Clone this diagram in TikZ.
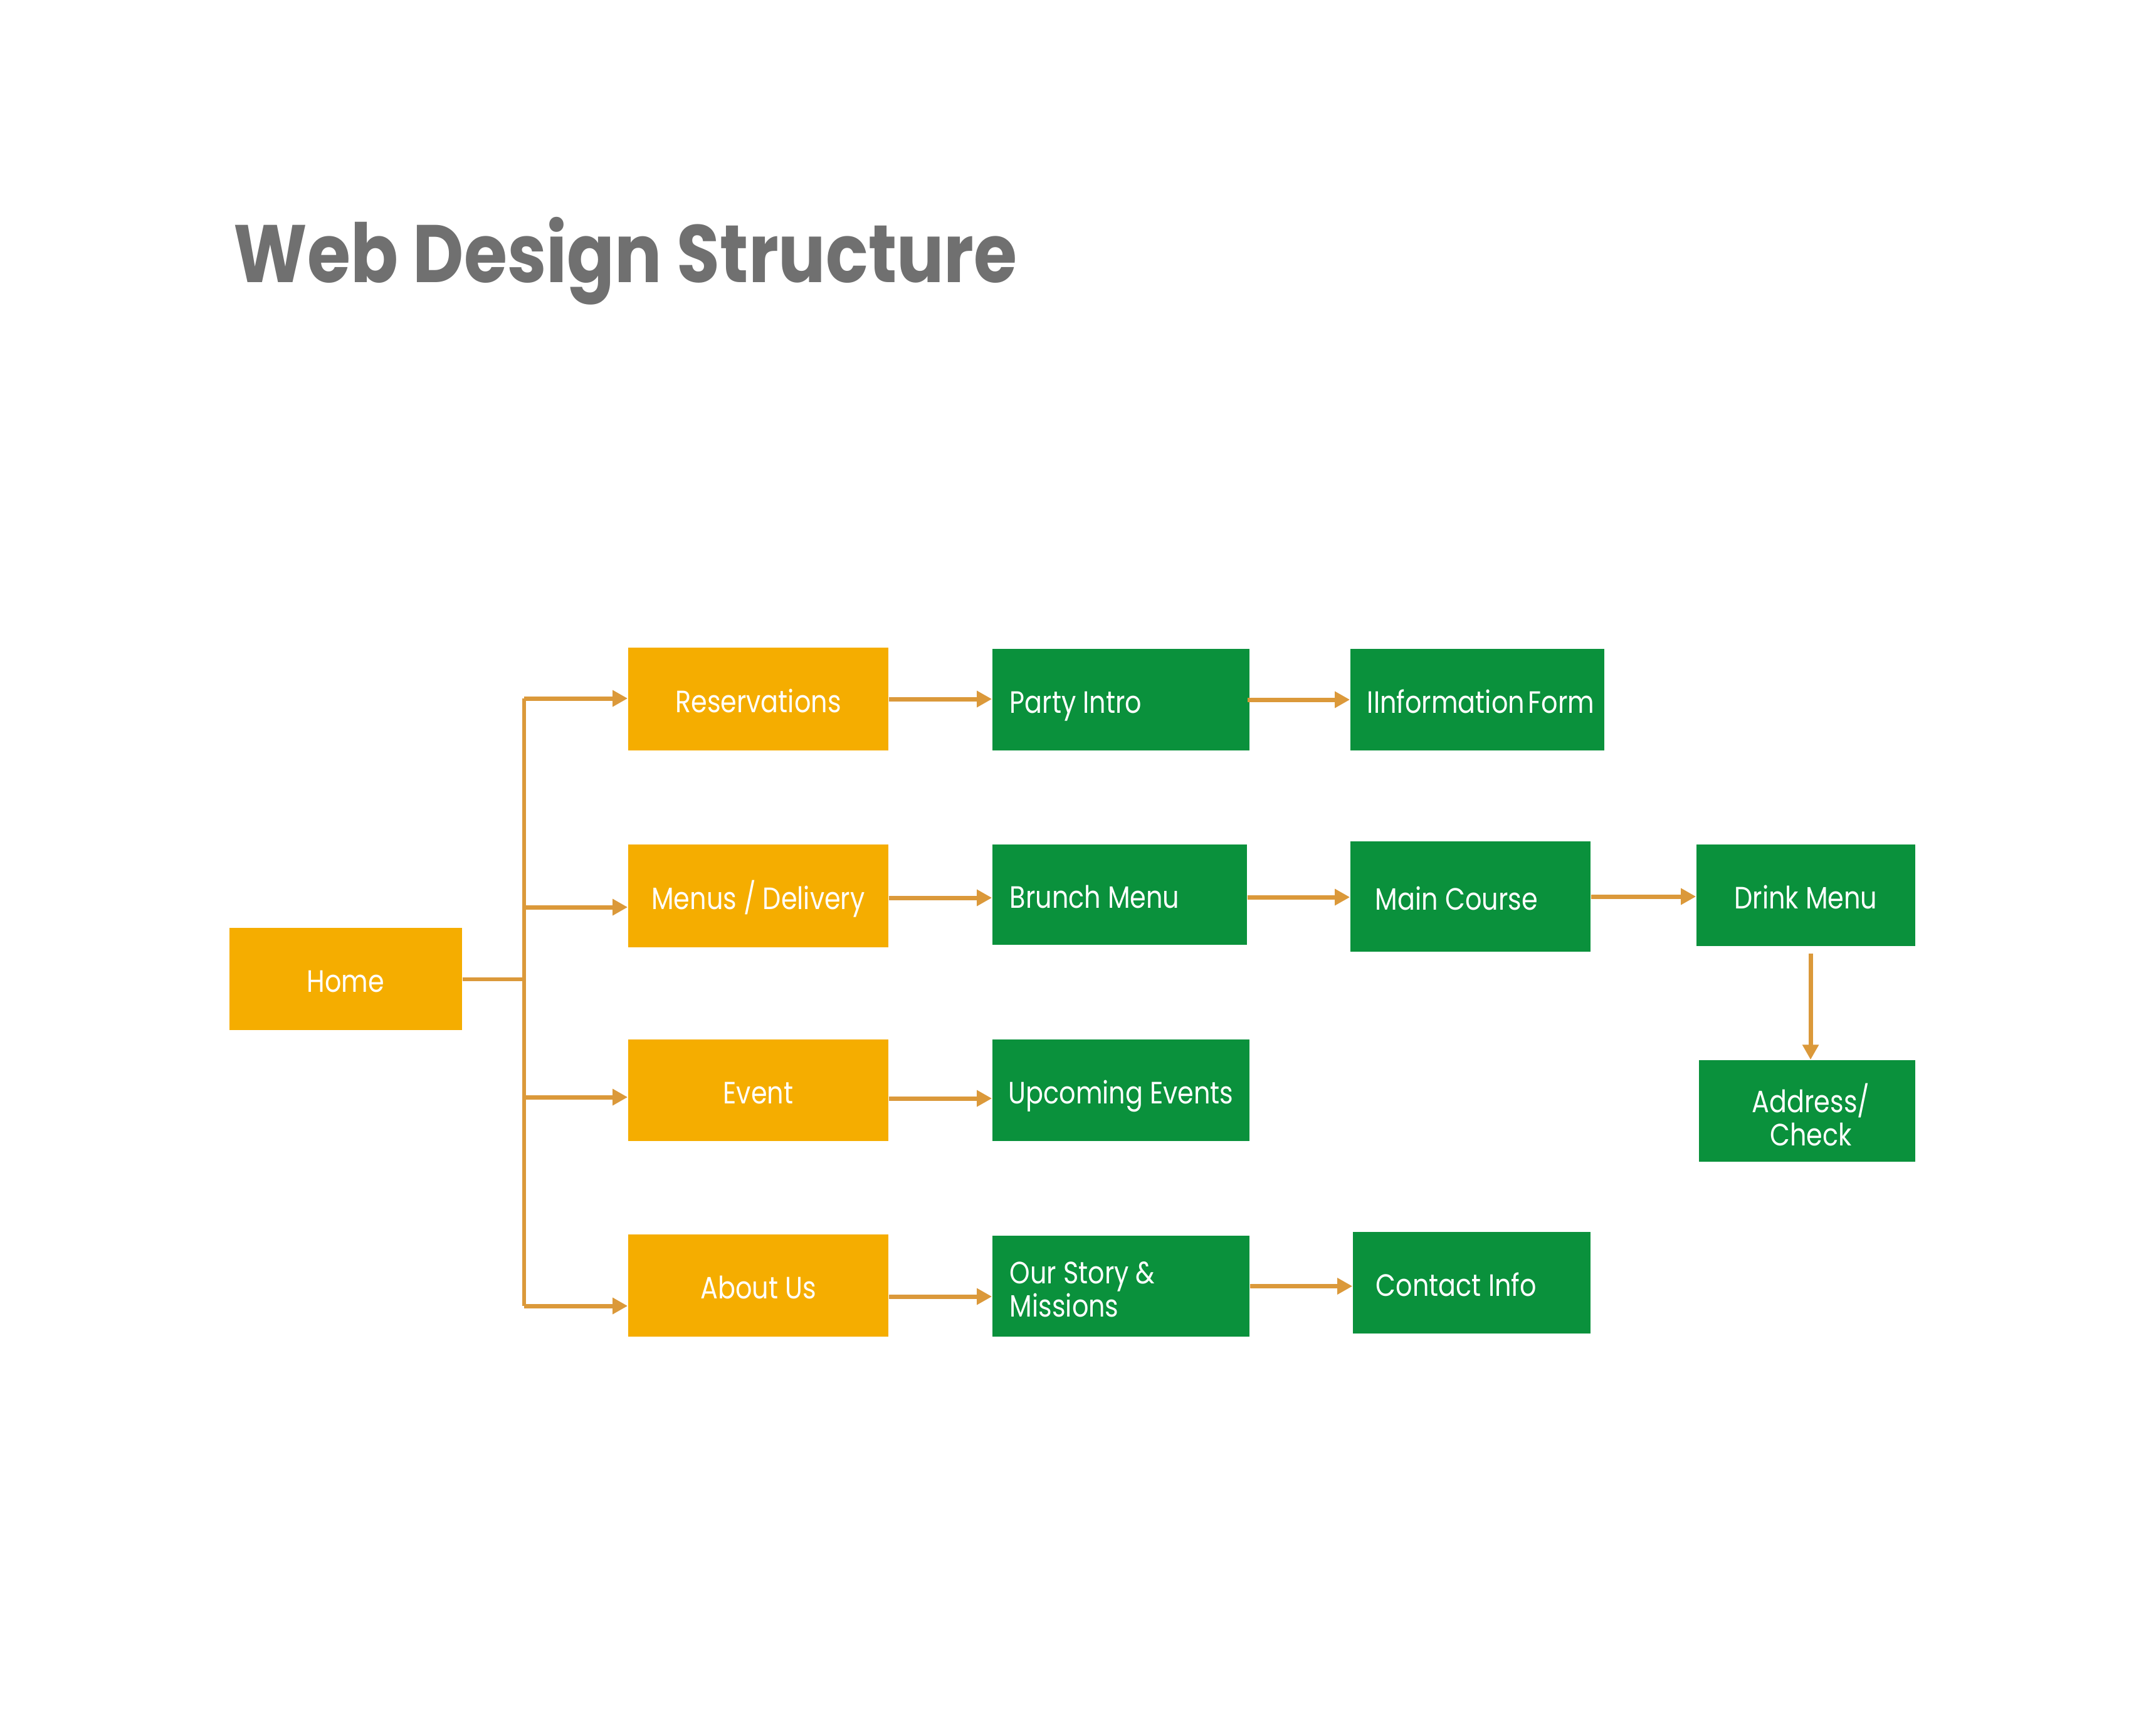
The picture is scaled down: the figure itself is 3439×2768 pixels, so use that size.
\documentclass[tikz,border=0pt]{standalone}
\usepackage{fontspec}
\usetikzlibrary{arrows.meta}
\newfontfamily\labelfont[FakeStretch=0.84]{Poppins}
\newfontfamily\titlefont[FakeStretch=0.86]{Poppins}
\definecolor{boxorange}{RGB}{245,173,0}
\definecolor{boxgreen}{RGB}{10,145,60}
\definecolor{linkcol}{RGB}{219,153,58}
\definecolor{titlegray}{RGB}{112,112,112}
\begin{document}
\begin{tikzpicture}[x=0.01cm,y=-0.01cm,
  box/.style={rectangle, inner sep=0pt, text=white, font=\labelfont\fontsize{14}{15}\selectfont, align=center, text height=0.42cm, text depth=0pt},
  obox/.style={box, fill=boxorange},
  gbox/.style={box, fill=boxgreen},
  lbl/.style={inner sep=0pt, text=white, font=\labelfont\fontsize{14}{15}\selectfont, align=left, anchor=base west},
  conn/.style={draw=linkcol, line width=0.06cm},
  arr/.style={draw=linkcol, line width=0.07cm, -{Triangle[length=0.24cm,width=0.25cm]}}]
\path[use as bounding box, fill=white] (0,0) rectangle (3439,2768);

\node[anchor=base west, inner sep=0pt, text=titlegray, font=\titlefont\bfseries\fontsize{37}{40}\selectfont] (title) at (372,450) {Web Design Structure};

% orange column
\node[obox, minimum width=3.71cm, minimum height=1.63cm] (home) at (551.5,1561.5) {Home};
\node[obox, minimum width=4.15cm, minimum height=1.64cm] (res) at (1209.5,1115) {Reservations};
\node[obox, minimum width=4.15cm, minimum height=1.64cm] (menus) at (1209.5,1429) {Menus / Delivery};
\node[obox, minimum width=4.15cm, minimum height=1.62cm] (event) at (1209.5,1739) {Event};
\node[obox, minimum width=4.15cm, minimum height=1.63cm] (about) at (1209.5,2050.5) {About Us};

% green boxes
\node[gbox, minimum width=4.10cm, minimum height=1.62cm] (party) at (1788,1116) {};
\node[lbl] (partyT) at ([xshift=0.28cm,yshift=-0.21cm]party.west) {Party Intro};
\node[gbox, minimum width=4.05cm, minimum height=1.62cm] (info) at (2356.5,1116) {};
\node[lbl] (infoT) at ([xshift=0.27cm,yshift=-0.21cm]info.west) {IInformation\hspace{0.12em}Form};
\node[gbox, minimum width=4.06cm, minimum height=1.60cm] (brunch) at (1786,1427) {};
\node[lbl] (brunchT) at ([xshift=0.28cm,yshift=-0.21cm]brunch.west) {Brunch Menu};
\node[gbox, minimum width=3.83cm, minimum height=1.76cm] (main) at (2345.5,1430) {};
\node[lbl] (mainT) at ([xshift=0.40cm,yshift=-0.21cm]main.west) {Main Course};
\node[gbox, minimum width=3.49cm, minimum height=1.62cm] (drink) at (2880.5,1428) {Drink Menu};
\node[gbox, minimum width=3.45cm, minimum height=1.62cm] (addr) at (2882.5,1772) {};
\node[inner sep=0pt, text=white, font=\labelfont\fontsize{14}{15}\selectfont, align=center] (addrT) at ([xshift=0.06cm,yshift=-0.06cm]addr.center) {Address/\\Check};
\node[gbox, minimum width=4.10cm, minimum height=1.62cm] (upcoming) at (1788,1739) {Upcoming Events};
\node[gbox, minimum width=4.10cm, minimum height=1.61cm] (story) at (1788,2051.5) {};
\node[inner sep=0pt, text=white, font=\labelfont\fontsize{14}{15}\selectfont, align=left, anchor=west] (storyT) at ([xshift=0.28cm,yshift=-0.05cm]story.west) {Our Story \&\\Missions};
\node[gbox, minimum width=3.79cm, minimum height=1.62cm] (contact) at (2347.5,2046) {};
\node[lbl] (contactT) at ([xshift=0.37cm,yshift=-0.21cm]contact.west) {Contact Info};

% trunk
\coordinate (tr) at (836,1114);
\coordinate (tm) at (836,1447);
\coordinate (te) at (836,1750);
\coordinate (ta) at (836,2083);
\draw[conn] (tr) -- (ta);
\draw[conn] (home.east) -- (home.east -| tr);
\draw[arr] (tr) -- (tr -| res.west);
\draw[arr] (tm) -- (tm -| menus.west);
\draw[arr] (te) -- (te -| event.west);
\draw[arr] (ta) -- (ta -| about.west);

% second level
\draw[arr] (res.east) -- (res.east -| party.west);
\coordinate (m1) at ([yshift=-0.03cm]menus.east);
\draw[arr] (m1) -- (m1 -| brunch.west);
\coordinate (e1) at ([yshift=-0.13cm]event.east);
\draw[arr] (e1) -- (e1 -| upcoming.west);
\coordinate (a1) at ([yshift=-0.175cm]about.east);
\draw[arr] (a1) -- (a1 -| story.west);

% third level
\coordinate (p1) at ([xshift=-0.04cm]party.east);
\draw[arr] (p1) -- (p1 -| info.west);
\coordinate (b1) at ([yshift=-0.04cm]brunch.east);
\draw[arr] (b1) -- (b1 -| main.west);
\draw[arr] (main.east) -- (main.east -| drink.west);
\draw[arr] (story.east) -- (story.east -| contact.west);
\coordinate (d1) at ([shift={(0.075cm,-0.11cm)}]drink.south);
\draw[arr] (d1) -- (d1 |- addr.north);
\end{tikzpicture}
\end{document}
